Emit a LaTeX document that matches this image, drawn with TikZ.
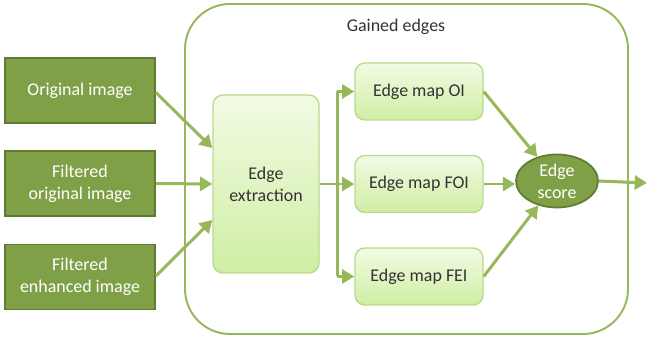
\documentclass[tikz,border=0pt]{standalone}
\usepackage{fontspec}
\setmainfont{Carlito}
\usetikzlibrary{arrows.meta, shapes.geometric}

\definecolor{darkolive}{RGB}{128,160,72}
\definecolor{olivedraw}{RGB}{96,124,48}
\definecolor{arrowgreen}{RGB}{150,184,90}
\definecolor{lighttop}{RGB}{242,251,228}
\definecolor{lightbot}{RGB}{208,238,164}
\definecolor{lightdraw}{RGB}{184,218,140}

\tikzset{
    inputbox/.style={draw=olivedraw, line width=1pt, fill=darkolive, text=white,
        minimum width=3cm, minimum height=1.3cm, align=center},
    lightbox/.style={draw=lightdraw, line width=0.8pt, rounded corners=0.2cm,
        top color=lighttop, bottom color=lightbot, text=black!80, align=center},
    flow/.style={draw=arrowgreen, line width=1.7pt,
        -{Triangle[length=7pt, width=8pt]}},
}

\begin{document}
\begin{tikzpicture}[font=\fontsize{10.2}{12.5}\selectfont]
        \useasboundingbox (0, 0) rectangle (12.94, 6.76);
        % container
        \draw[arrowgreen, line width=1.1pt, rounded corners=0.9cm]
            (3.7, 0.08) rectangle (12.56, 6.68);
        \node[text=black!80] (title) at (7.92, 6.22) {Gained edges};

        % inputs
        \node[inputbox] (orig) at (1.6, 4.95) {Original image};
        \node[inputbox] (filt) at (1.6, 3.09) {Filtered\\original image};
        \node[inputbox] (enh) at (1.6, 1.22) {Filtered\\enhanced image};

        % processing
        \node[lightbox, minimum width=2.12cm, minimum height=3.56cm]
            (extr) at (5.32, 3.08) {Edge\\extraction};
        \node[lightbox, minimum width=2.56cm, minimum height=1.14cm]
            (mapoi) at (8.38, 4.93) {Edge map OI};
        \node[lightbox, minimum width=2.56cm, minimum height=1.14cm]
            (mapfoi) at (8.38, 3.08) {Edge map FOI};
        \node[lightbox, minimum width=2.56cm, minimum height=1.14cm]
            (mapfei) at (8.38, 1.23) {Edge map FEI};
        \node[ellipse, draw=olivedraw, line width=1pt, fill=darkolive, text=white,
            minimum width=1.64cm, minimum height=1.06cm, inner sep=0pt, align=center]
            (score) at (11.14, 3.14) {Edge\\score};
        \coordinate (branch) at (6.74, 3.08);
        \coordinate (out) at (12.94, 3.1);

        % connectors
        \draw[flow] ([yshift=-0.04cm]orig.east) -- ([yshift=0.72cm]extr.west);
        \draw[flow] (filt.east) -- (extr.west);
        \draw[flow] ([yshift=0.02cm]enh.east) -- ([yshift=-0.72cm]extr.west);
        \draw[arrowgreen, line width=1.7pt] (extr.east) -- (branch);
        \draw[flow] (branch |- mapoi) -- (mapoi.west);
        \draw[flow] (branch) -- (mapfoi.west);
        \draw[flow] (branch |- mapfei) -- (mapfei.west);
        \draw[arrowgreen, line width=1.7pt] (branch |- mapoi) -- (branch |- mapfei);
        \draw[flow] (mapoi.east) -- (score);
        \draw[flow] (mapfoi.east) -- (score.west |- mapfoi);
        \draw[flow] (mapfei.east) -- (score);
        \draw[flow] (score.east) -- (out);
\end{tikzpicture}
\end{document}
